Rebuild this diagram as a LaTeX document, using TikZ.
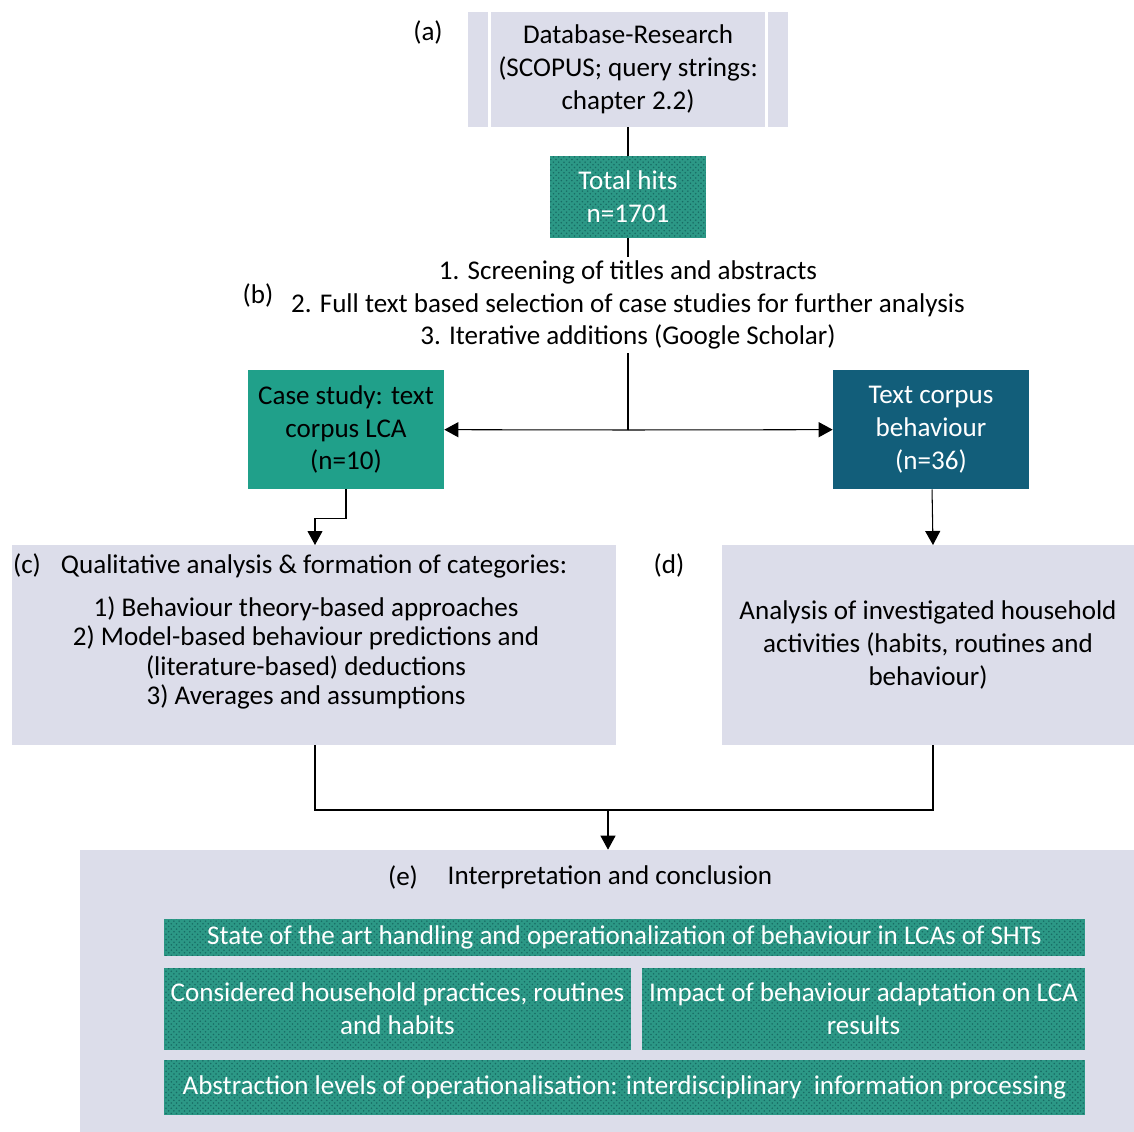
\documentclass[tikz,border=0pt]{standalone}
\usepackage{fontspec}
\setmainfont{Carlito}
\usetikzlibrary{arrows.meta,patterns}
\definecolor{boxgrey}{RGB}{220,221,234}
\definecolor{hitteal}{RGB}{44,152,134}
\definecolor{dotteal}{RGB}{24,108,100}
\definecolor{caseteal}{RGB}{32,160,138}
\definecolor{corpusblue}{RGB}{18,94,122}
\begin{document}
\begin{tikzpicture}[x=0.02cm, y=-0.02cm,
		every node/.style={font=\fontsize{15.4pt}{18.7pt}\selectfont, inner sep=0pt, align=center},
		greybox/.style={fill=boxgrey},
		dotbox/.style={preaction={fill=hitteal}, pattern=crosshatch dots, pattern color=dotteal, text=white},
		arr/.style={line width=0.6pt, -{Triangle[length=0.28cm, width=0.3cm]}},
		ln/.style={line width=0.6pt}]
		% \draw[help lines] (0,0) grid[step=100] (1134,1132);
		\useasboundingbox (0,0) rectangle (1134,1132);

		\node[greybox, minimum width=6.4cm, minimum height=2.3cm] (db) at (628,69.5) {Database-Research\\(SCOPUS; query strings:\\chapter 2.2)};
		\draw[white, line width=1.5pt] ([xshift=0.44cm]db.north west) -- ([xshift=0.44cm]db.south west);
		\draw[white, line width=1.5pt] ([xshift=-0.44cm]db.north east) -- ([xshift=-0.44cm]db.south east);
		\node (a) at (428,32) {(a)};

		\node[dotbox, minimum width=3.12cm, minimum height=1.64cm] (hits) at (628,197) {Total hits\\n=1701};

		\node[inner sep=2pt] (screen) at (628,305) {1. Screening of titles and abstracts\\2. Full text based selection of case studies for further analysis\\3. Iterative additions (Google Scholar)};
		\node (b) at (258,295) {(b)};

		\node[fill=caseteal, minimum width=3.92cm, minimum height=2.38cm] (case) at (346,429.5) {Case study: text\\corpus LCA\\(n=10)};
		\node[fill=corpusblue, text=white, minimum width=3.92cm, minimum height=2.38cm] (corpus) at (931,429.5) {Text corpus\\behaviour\\(n=36)};
		\coordinate (split) at (628,430);

		\draw[ln] (db) -- (hits);
		\draw[ln] (hits) -- (screen);
		\draw[ln] (screen) -- (split);
		\draw[arr] (split) -- (case);
		\draw[arr] (split) -- (corpus);

		\node[greybox, minimum width=12.08cm, minimum height=4cm] (qual) at (314,645) {};
		\node (c) at (27,565) {(c)};
		\node (qhead) at (314,566) {Qualitative analysis \& formation of categories:};
		\node[font=\fontsize{15.4pt}{16.6pt}\selectfont] (qlist) at (306,653) {1) Behaviour theory-based approaches\\2) Model-based behaviour predictions and\\(literature-based) deductions\\3) Averages and assumptions};

		\node[greybox, minimum width=8.24cm, minimum height=4cm] (anal) at (928,645) {Analysis of investigated household\\activities (habits, routines and\\behaviour)};
		\node (d) at (669,565) {(d)};
		\coordinate (qin) at (315,545);
		\coordinate (din) at (933,545);

		\draw[arr] (case.south) -- ++(0,29) -| (qin);
		\draw[arr] (corpus) -- (din);

		\node[greybox, minimum width=21.08cm, minimum height=5.64cm] (concl) at (607,991) {};
		\node (e) at (403,877) {(e)};
		\node (ehead) at (610,877) {Interpretation and conclusion};
		\coordinate (merge) at (608,810);

		\draw[ln] (qual.south -| qin) |- (merge);
		\draw[ln] (anal.south -| din) |- (merge);
		\draw[arr] (merge) -- (concl.north -| merge);

		\node[dotbox, minimum width=18.42cm, minimum height=0.74cm] (state) at (624.5,937.5) {State of the art handling and operationalization of behaviour in LCAs of SHTs};
		\node[dotbox, minimum width=9.34cm, minimum height=1.64cm] (prac) at (397.5,1009) {Considered household practices, routines\\and habits};
		\node[dotbox, minimum width=8.86cm, minimum height=1.64cm] (impact) at (863.5,1009) {Impact of behaviour adaptation on LCA\\results};
		\node[dotbox, minimum width=18.42cm, minimum height=1.1cm] (abstr) at (624.5,1087.5) {Abstraction levels of operationalisation: interdisciplinary~ information processing};
	\end{tikzpicture}
\end{document}
